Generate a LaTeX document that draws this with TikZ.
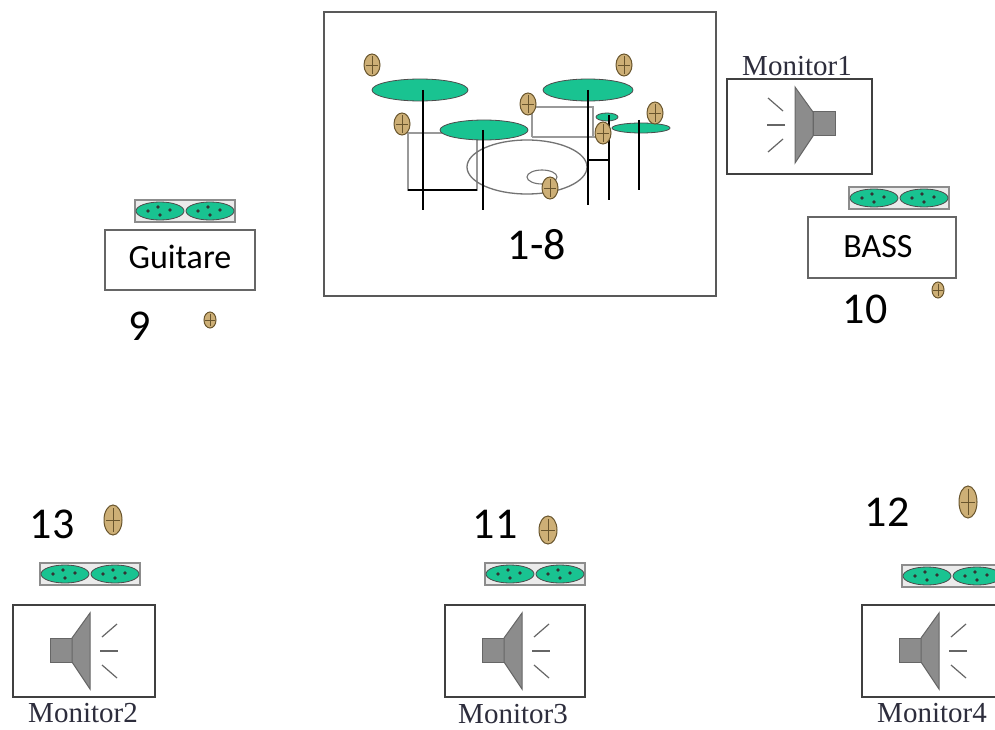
\documentclass[tikz,border=0pt]{standalone}
\usepackage{fontspec}
\setmainfont{Liberation Serif}
\newfontfamily\calib{Carlito}
\definecolor{cymgreen}{RGB}{25,195,145}
\definecolor{micfill}{RGB}{205,175,118}
\definecolor{micline}{RGB}{105,85,45}
\definecolor{spkgray}{RGB}{140,140,140}
\definecolor{monlab}{RGB}{45,45,60}
\tikzset{
  boxline/.style={draw=black!75,line width=1.6pt},
  drumline/.style={draw=black!65,line width=2pt},
  grayline/.style={draw=black!40,line width=1.5pt},
  blackline/.style={draw=black,line width=1.4pt},
  cymbal/.style={fill=cymgreen,draw=black!70,line width=0.8pt},
  micro/.style={fill=micfill,draw=micline,line width=1pt},
  pickbox/.style={fill=black!8,draw=black!45,line width=1.2pt},
  spk/.style={fill=spkgray,draw=black!60,line width=1pt},
  snd/.style={draw=black!60,line width=1.2pt},
  numlab/.style={inner sep=0pt,font=\calib\fontsize{44}{44}\selectfont},
  boxlab/.style={inner sep=0pt,font=\calib\fontsize{34}{34}\selectfont},
  monlabel/.style={inner sep=0pt,text=monlab,font=\fontsize{29}{29}\selectfont}
}
\newcommand\mymic[4]{%
  \draw[micro] (#1,#2) ellipse ({#3} and {#4});
  \draw[micline,line width=0.6pt] (#1,#2-#4*0.8) -- (#1,#2+#4*0.8);
  \draw[micline,line width=0.6pt] (#1-#3*0.8,#2) -- (#1+#3*0.8,#2);
}
\newcommand\mypick[2]{%
  \draw[pickbox] (#1,#2) rectangle ++(100,22);
  \foreach \cx in {25,75}{
    \draw[cymbal] (#1+\cx,#2+11) ellipse (24 and 9);
    \foreach \dx/\dy in {-12/0,-2/-4,0/4,10/-1}
      \fill[black!80] (#1+\cx+\dx,#2+11+\dy) circle (1.8);
  }
}
\newcommand\myspk[3]{%
  \begin{scope}[shift={(#1,#2)},xscale=#3]
    \draw[spk] (37,33) rectangle (59,57);
    \draw[spk] (59,33) -- (77,8) -- (77,84) -- (59,57) -- cycle;
    \draw[snd] (89,32) -- (104,19);
    \draw[snd] (87,46) -- (105,46);
    \draw[snd] (89,60) -- (104,73);
  \end{scope}
}
\begin{document}
\begin{tikzpicture}[x=1pt,y=-1pt]
\useasboundingbox[fill=white] (0,0) rectangle (995,730);

% ---------- drum kit ----------
\draw[drumline] (324,12) rectangle (716,296);
\draw[grayline] (408,133) rectangle (477,190);
\draw[blackline] (408,190) -- (477,190);
\draw[grayline] (532,137) -- (532,107) -- (593,107) -- (593,137);
\draw[grayline] (532,137) -- (602,137);
\draw[draw=black!55,line width=1.3pt] (527,167) ellipse (60 and 27);
\draw[draw=black!55,line width=1.1pt] (542,177) ellipse (15 and 7);
\draw[cymbal] (420,90) ellipse (48 and 11);
\draw[cymbal] (588,90) ellipse (45 and 11);
\draw[cymbal] (484,130) ellipse (44 and 10);
\draw[cymbal] (607,117) ellipse (11 and 4);
\draw[cymbal] (641,128) ellipse (29 and 5);
\draw[blackline] (423,90) -- (423,210);
\draw[blackline] (483,130) -- (483,210);
\draw[blackline] (588,90) -- (588,205);
\draw[blackline] (609,115) -- (609,200);
\draw[blackline] (639,120) -- (639,190);
\draw[blackline] (588,160) -- (609,160);
\mymic{372}{65}{8}{11}
\mymic{402}{124}{8}{11}
\mymic{528}{104}{8}{11}
\mymic{624}{65}{8}{11}
\mymic{655}{113}{8}{11}
\mymic{603}{133}{8}{11}
\mymic{550}{188}{8}{11}
\node[numlab] (drums) at (537,245) {1-8};

% ---------- Monitor 1 ----------
\node[monlabel] (m1lab) at (797,66) {Monitor1};
\draw[boxline] (727,79) rectangle (872,174);
\myspk{872}{79}{-1}

% ---------- Bass ----------
\mypick{849}{187}
\draw[boxline,draw=black!60] (808,217) rectangle (956,278);
\node[boxlab] (bass) at (878,247) {BASS};
\node[numlab] (n10) at (865,309) {10};
\mymic{938}{290}{6}{8}

% ---------- Guitare ----------
\mypick{135}{200}
\draw[boxline,draw=black!60] (105,230) rectangle (255,290);
\node[boxlab] (guit) at (180,257) {Guitare};
\node[numlab] (n9) at (140,326) {9};
\mymic{210}{320}{6}{8}

% ---------- Monitor 2 ----------
\node[numlab] (n13) at (52,524) {13};
\mymic{113}{520}{9}{15}
\mypick{40}{563}
\draw[boxline] (13,605) rectangle (155,697);
\myspk{13}{605}{1}
\node[monlabel] (m2lab) at (83,713) {Monitor2};

% ---------- Monitor 3 ----------
\node[numlab] (n11) at (495,524) {11};
\mymic{548}{530}{9}{14}
\mypick{485}{563}
\draw[boxline] (445,605) rectangle (585,697);
\myspk{445}{605}{1}
\node[monlabel] (m3lab) at (513,714) {Monitor3};

% ---------- Monitor 4 ----------
\node[numlab] (n12) at (887,512) {12};
\mymic{968}{502}{9}{16}
\mypick{902}{565}
\draw[boxline] (862,605) rectangle (1010,697);
\myspk{862}{605}{1}
\node[monlabel] (m4lab) at (932,713) {Monitor4};
\end{tikzpicture}
\end{document}
